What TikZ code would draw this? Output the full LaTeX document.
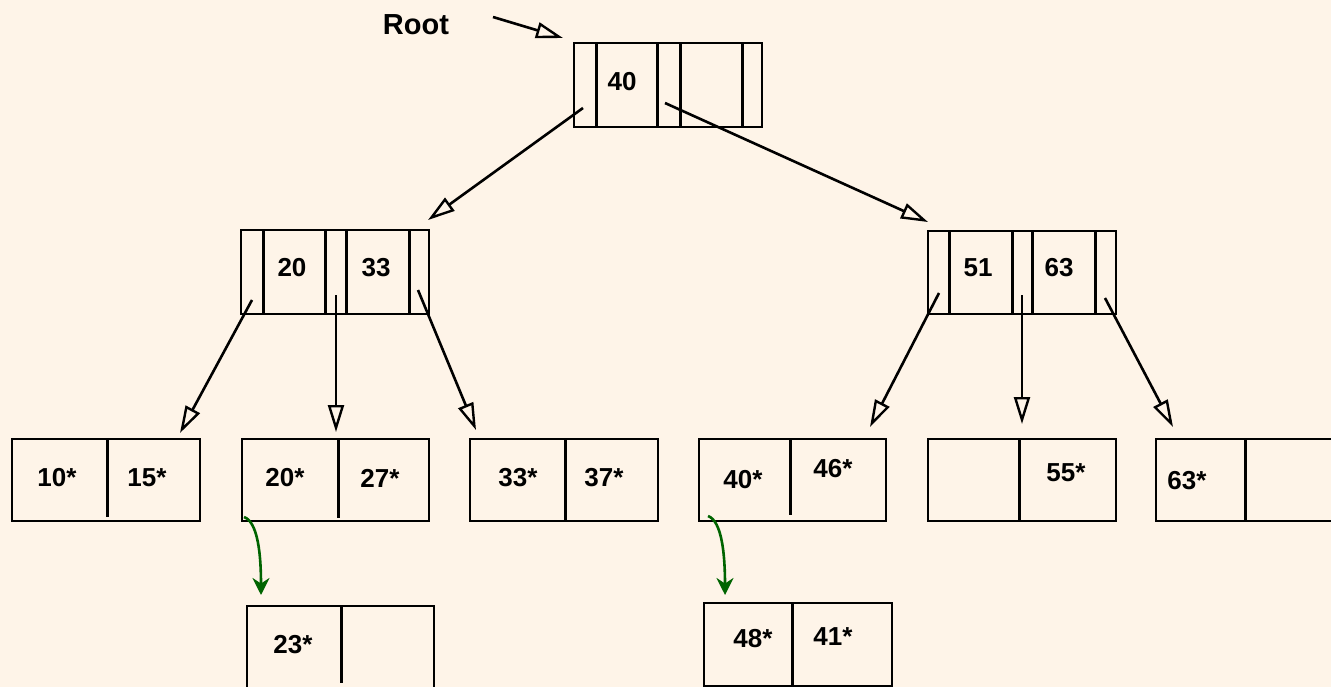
\documentclass[tikz,border=0pt]{standalone}
\usepackage{fontspec}
\setmainfont{Liberation Sans}
\usetikzlibrary{arrows.meta}
\definecolor{bg}{HTML}{FEF4E8}
\definecolor{ptrgreen}{HTML}{006400}
\begin{document}
\begin{tikzpicture}[x=1pt,y=-1pt,
  box/.style={draw, line width=2.6pt, inner sep=0pt},
  lbl/.style={font=\fontsize{26}{30}\selectfont\bfseries, inner sep=0pt},
  ptr/.style={line width=2.6pt, -{Triangle[open,length=27pt,width=16pt,line width=2.4pt]}},
  ovf/.style={ptrgreen, line width=2.6pt, -{Stealth[length=17pt,width=17pt]}},
  divline/.style={line width=3pt}]
\fill[bg] (0,0) rectangle (1331,687);
\useasboundingbox (0,0) rectangle (1331,687);
\clip (0,0) rectangle (1331,687);

% ---------- root ----------
\node[lbl, font=\fontsize{29}{33}\selectfont\bfseries] (rootlbl) at (416,25) {Root};
\node[box, minimum width=188pt, minimum height=84pt] (root) at (668,85) {};
\foreach \x in {596,657,680,742} \draw[divline] (\x,43) -- (\x,127);
\node[lbl] (k40) at (622,82) {40};
\coordinate (rootsrc) at (493,17);
\coordinate (rootin) at (563,38);
\draw[ptr] (rootsrc) -- (rootin);

% ---------- inner nodes ----------
\node[box, minimum width=188pt, minimum height=84pt] (inL) at (335,272) {};
\foreach \x in {263,325,346,409} \draw[divline] (\x,230) -- (\x,314);
\node[lbl] (k20) at (292,268) {20};
\node[lbl] (k33) at (376,268) {33};

\node[box, minimum width=188pt, minimum height=83pt] (inR) at (1022,272.5) {};
\foreach \x in {949,1012,1032,1095} \draw[divline] (\x,231) -- (\x,314);
\node[lbl] (k51) at (978,268) {51};
\node[lbl] (k63) at (1059,268) {63};

% root pointers
\coordinate (rp0) at (583,108);
\coordinate (rp1) at (665,103);
\coordinate (inLin) at (428,220);
\coordinate (inRin) at (928,222);
\draw[ptr] (rp0) -- (inLin);
\draw[ptr] (rp1) -- (inRin);

% ---------- leaves ----------
\node[box, minimum width=188pt, minimum height=82pt] (L1) at (106,480) {};
\draw[divline] (107,439) -- (107,517);
\node[lbl] (t10) at (57,478) {10*};
\node[lbl] (t15) at (147,478) {15*};

\node[box, minimum width=187pt, minimum height=82pt] (L2) at (335.5,480) {};
\draw[divline] (338,439) -- (338,518);
\node[lbl] (t20) at (285,478) {20*};
\node[lbl] (t27) at (380,478) {27*};

\node[box, minimum width=188pt, minimum height=82pt] (L3) at (564,480) {};
\draw[divline] (565,439) -- (565,521);
\node[lbl] (t33) at (518,478) {33*};
\node[lbl] (t37) at (604,478) {37*};

\node[box, minimum width=187pt, minimum height=82pt] (L4) at (792.5,480) {};
\draw[divline] (790,439) -- (790,515);
\node[lbl] (t40) at (743,480) {40*};
\node[lbl] (t46) at (833,469) {46*};

\node[box, minimum width=188pt, minimum height=82pt] (L5) at (1022,480) {};
\draw[divline] (1019,439) -- (1019,521);
\node[lbl] (t55) at (1066,473) {55*};

\node[box, minimum width=188pt, minimum height=82pt] (L6) at (1250,480) {};
\draw[divline] (1245,439) -- (1245,521);
\node[lbl] (t63) at (1187,481) {63*};

% inner pointers
\coordinate (lp0) at (252,300);
\coordinate (lp1) at (336,295);
\coordinate (lp2) at (418,290);
\coordinate (L1in) at (180,433);
\coordinate (L2in) at (336,432);
\coordinate (L3in) at (476,430);
\draw[ptr] (lp0) -- (L1in);
\draw[ptr] (lp1) -- (L2in);
\draw[ptr] (lp2) -- (L3in);

\coordinate (rq0) at (939,293);
\coordinate (rq1) at (1022,295);
\coordinate (rq2) at (1105,298);
\coordinate (L4in) at (870,427);
\coordinate (L5in) at (1022,424);
\coordinate (L6in) at (1173,427);
\draw[ptr] (rq0) -- (L4in);
\draw[ptr] (rq1) -- (L5in);
\draw[ptr] (rq2) -- (L6in);

% ---------- overflow pages ----------
\node[box, minimum width=187pt, minimum height=100pt] (O1) at (340.5,656) {};
\draw[divline] (341,606) -- (341,683);
\node[lbl] (t23) at (293,645) {23*};

\node[box, minimum width=188pt, minimum height=83pt] (O2) at (798,644.5) {};
\draw[divline] (792,603) -- (792,686);
\node[lbl] (t48) at (753,639) {48*};
\node[lbl] (t41) at (833,637) {41*};

\coordinate (ov1s) at (244,517);
\coordinate (ov1e) at (261,595);
\draw[ovf] (ov1s) .. controls (258,522) and (261,555) .. (ov1e);
\coordinate (ov2s) at (708,516);
\coordinate (ov2e) at (725,595);
\draw[ovf] (ov2s) .. controls (722,521) and (725,555) .. (ov2e);
\end{tikzpicture}
\end{document}
